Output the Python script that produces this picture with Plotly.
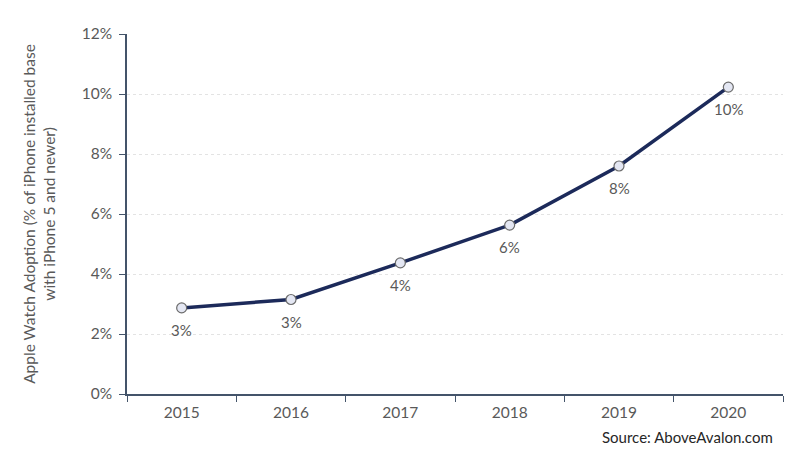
import plotly.graph_objects as go

years = ["2015", "2016", "2017", "2018", "2019", "2020"]
adoption = [2.87, 3.15, 4.37, 5.63, 7.6, 10.23]
labels = ["3%", "3%", "4%", "6%", "8%", "10%"]
y_ticks = [0, 2, 4, 6, 8, 10, 12]
y_tick_text = ["0%", "2%", "4%", "6%", "8%", "10%", "12%"]

font_family = "Lato, 'Open Sans', sans-serif"
gray = "#595959"

fig = go.Figure()
fig.add_trace(go.Scatter(
    x=years, y=adoption, mode="lines+markers",
    line=dict(color="#1C2A5A", width=3.5),
    marker=dict(size=10, color="#E4E7F3", line=dict(color="#6B6B6B", width=1.2)),
    cliponaxis=False, hoverinfo="skip",
))

annotations = [
    dict(x=i, y=v, text=t, xref="x", yref="y", showarrow=False,
         yshift=-22, font=dict(family=font_family, size=15, color=gray))
    for i, (v, t) in enumerate(zip(adoption, labels))
]
annotations.append(dict(
    text="Source: AboveAvalon.com", xref="paper", yref="paper",
    x=0.988, y=-0.12, xanchor="right", yanchor="middle", showarrow=False,
    font=dict(family=font_family, size=15, color="#262626"),
))

fig.update_layout(
    width=792, height=450,
    margin=dict(l=119, r=17, t=26, b=64),
    paper_bgcolor="white", plot_bgcolor="white",
    showlegend=False,
    font=dict(family=font_family, size=15, color=gray),
    xaxis=dict(
        type="category", range=[-0.5, 5.5],
        showline=True, linecolor="#44546A", linewidth=1.5,
        ticks="outside", ticklen=6, tickcolor="#44546A",
        tickson="boundaries", showgrid=False,
        tickfont=dict(size=15.5, color=gray), ticklabelstandoff=4,
    ),
    yaxis=dict(
        range=[0, 12], tickvals=y_ticks, ticktext=y_tick_text,
        showline=True, linecolor="#44546A", linewidth=1.5,
        ticks="outside", ticklen=6, tickcolor="#44546A",
        showgrid=True, gridcolor="#E3E3E3", gridwidth=1, griddash="dot",
        zeroline=False,
        tickfont=dict(size=15.5, color=gray), ticklabelstandoff=4,
        title=dict(text="Apple Watch Adoption (% of iPhone installed base<br>with iPhone 5 and newer)",
                   font=dict(size=15.5, color=gray), standoff=22),
    ),
    annotations=annotations,
)

fig.write_html("out.html")
